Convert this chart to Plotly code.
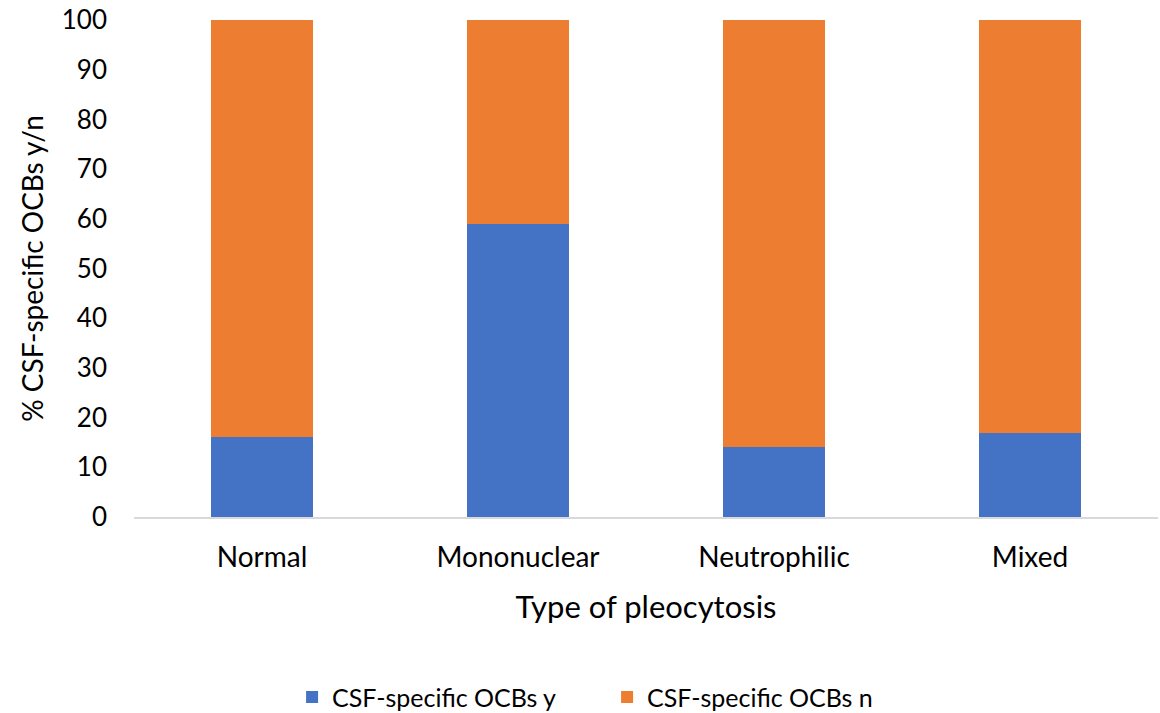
import plotly.graph_objects as go

categories = ["Normal", "Mononuclear", "Neutrophilic", "Mixed"]
ocb_yes = [16, 59, 14, 17]
ocb_no = [84, 41, 86, 83]

font_family = "Lato, 'Open Sans', sans-serif"

fig = go.Figure()
fig.add_trace(go.Bar(x=categories, y=ocb_yes, name="CSF-specific OCBs y",
                     marker=dict(color="#4472C4", line=dict(width=0))))
fig.add_trace(go.Bar(x=categories, y=ocb_no, name="CSF-specific OCBs n",
                     marker=dict(color="#ED7D31", line=dict(width=0))))

fig.update_layout(
    barmode="stack",
    bargap=0.6,
    width=1160, height=713,
    margin=dict(l=134, r=2, t=20, b=196),
    plot_bgcolor="white", paper_bgcolor="white",
    font=dict(family=font_family, color="#000000", size=22),
    xaxis=dict(
        showline=True, linecolor="#d9d9d9", linewidth=2,
        ticks="", tickfont=dict(size=28), ticklabelstandoff=14,
        title=dict(text="Type of pleocytosis", font=dict(size=31), standoff=25),
    ),
    yaxis=dict(
        range=[0, 100], dtick=10, showgrid=False, zeroline=False,
        showline=False, tickfont=dict(size=26), ticklabelstandoff=26,
        title=dict(text="% CSF-specific OCBs y/n", font=dict(size=28), standoff=9),
    ),
    legend=dict(
        orientation="h", x=0.462, xanchor="center",
        yref="container", y=0.022, yanchor="middle",
        font=dict(size=25), traceorder="normal", itemwidth=30,
        entrywidth=270,
    ),
)

fig.write_html("out.html")
